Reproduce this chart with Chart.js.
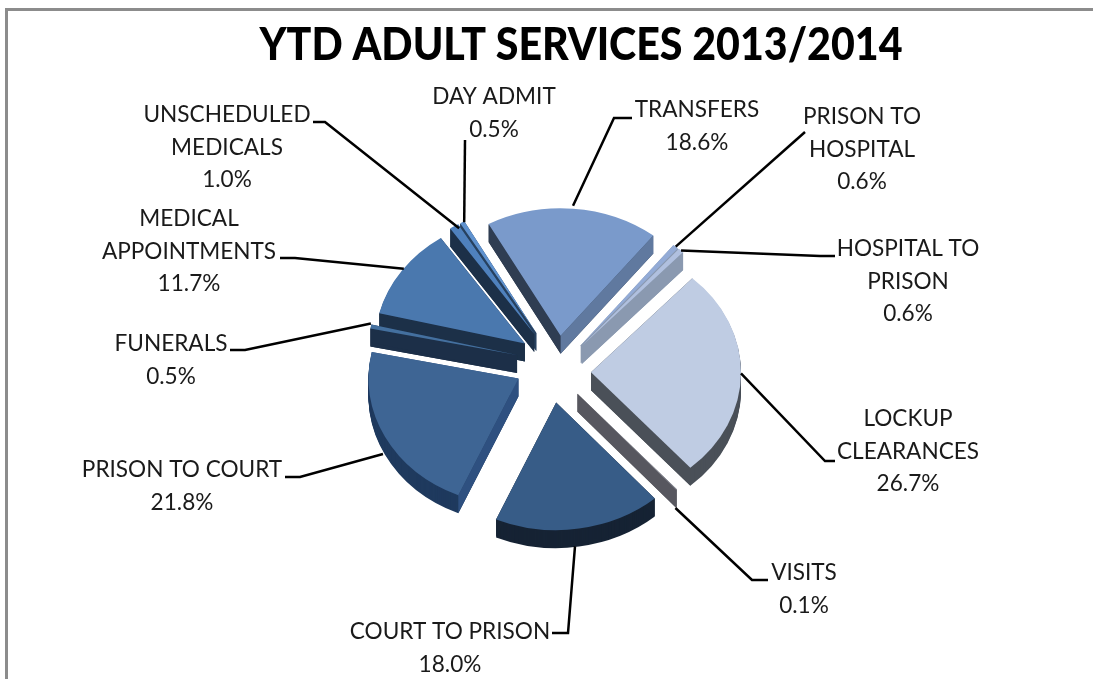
<!DOCTYPE html>
<html>
<head>
<meta charset="utf-8">
<title>YTD Adult Services 2013/2014</title>
<script src="https://cdn.jsdelivr.net/npm/chart.js@4"></script>
<style>
    html, body { margin: 0; padding: 0; background: #fff; overflow: hidden; }
    #frame { position: absolute; left: 5px; top: 8px; right: -5px; bottom: -5px; border: 3px solid #8c8c8c; }
    #rm-pie { position: absolute; left: 0; top: 0; }
</style>
</head>
<body>
<div id="frame"></div>
<canvas id="rm-pie" width="1093" height="679"></canvas>
<script>
const chartTitle = 'YTD ADULT SERVICES 2013/2014';

const categories = [
    'LOCKUP CLEARANCES', 'VISITS', 'COURT TO PRISON', 'PRISON TO COURT', 'FUNERALS',
    'MEDICAL APPOINTMENTS', 'UNSCHEDULED MEDICALS', 'DAY ADMIT', 'TRANSFERS',
    'PRISON TO HOSPITAL', 'HOSPITAL TO PRISON'
];
const values = [26.7, 0.1, 18.0, 21.8, 0.5, 11.7, 1.0, 0.5, 18.6, 0.6, 0.6];

// label wrapping, same order as categories
const labelLines = [
    ['LOCKUP', 'CLEARANCES'], ['VISITS'], ['COURT TO PRISON'], ['PRISON TO COURT'], ['FUNERALS'],
    ['MEDICAL', 'APPOINTMENTS'], ['UNSCHEDULED', 'MEDICALS'], ['DAY ADMIT'], ['TRANSFERS'],
    ['PRISON TO', 'HOSPITAL'], ['HOSPITAL TO', 'PRISON']
];

const topColors = ['#bfcce3', '#8a8c96', '#375c87', '#3e6594', '#44709f', '#4a78ae', '#4f81bd', '#5f92cf', '#7a9acb', '#93abd6', '#b0c0df'];
const wallStart = ['#4a5058', '#57575f', '#162334', '#2e5080', '#1c2f48', '#1c3048', '#1c3048', '#27415f', '#2f3d52', '#8a99b0', '#8a99b0'];
const wallEnd = ['#4a5058', '#57575f', '#162334', '#2e5080', '#1c2f48', '#1c3048', '#1c3048', '#27415f', '#60799f', '#8a99b0', '#8a99b0'];
const wallArc = ['#4a5058', '#57575f', '#162334', '#1f3a5e', '#1c2f48', '#1c3048', '#1c3048', '#27415f', '#2f3d52', '#8a99b0', '#8a99b0'];
const explode = [36, 34, 34, 40, 42, 44, 50, 50, 44, 36, 36];
// extra screen shift per slice, the original has some perspective
const nudge = [[0, 0], [0, 0], [-4, 2], [-1, -9], [3, -9], [6, -7], [6, -2], [6, -2], [2, 1], [3, -3], [3, -3]];

// text centre x, first line centre y, leader line from the label towards the slice, end tweak
const labelSpots = [
    { x: 908, y: 419, leader: [[835, 461], [825, 461]], tip: [0, 0] },
    { x: 804, y: 573, leader: [[768, 580], [752, 580]], tip: [-1, 5] },
    { x: 450, y: 632, leader: [[552, 633], [568, 633]], tip: [-4, 0] },
    { x: 182, y: 470, leader: [[285, 477], [300, 477]], tip: [-2, 9] },
    { x: 171, y: 344, leader: [[230, 350], [245, 350]], tip: [0, -3] },
    { x: 189, y: 219, leader: [[280, 258], [295, 258]], tip: [2, -2] },
    { x: 227, y: 115, leader: [[313, 122], [325, 122]], tip: [5, 2] },
    { x: 494, y: 97, leader: [[465, 140]], tip: [2, 0] },
    { x: 697, y: 110, leader: [[632, 118], [614, 118]], tip: [0, -3] },
    { x: 862, y: 117, leader: [[805, 132]], tip: [0, 0] },
    { x: 908, y: 249, leader: [[835, 256], [820, 256]], tip: [0, 0] }
];

const squash = 0.85;
const depth = 18;
const labelFont = '22.6px Lato, sans-serif';
const lineGap = 32.5;

function midAngle(arc) {
    return (arc.startAngle + arc.endAngle) / 2;
}

function drawArcAs(arc, ctx, color) {
    const keep = arc.options;
    arc.options = { ...keep, backgroundColor: color, borderWidth: 0 };
    arc.draw(ctx);
    arc.options = keep;
}

function wallQuad(ctx, arc, angle, color) {
    const px = arc.x + Math.cos(angle) * arc.outerRadius;
    const py = arc.y + Math.sin(angle) * arc.outerRadius;
    const d = depth / squash;
    ctx.fillStyle = color;
    ctx.beginPath();
    ctx.moveTo(arc.x, arc.y);
    ctx.lineTo(px, py);
    ctx.lineTo(px, py + d);
    ctx.lineTo(arc.x, arc.y + d);
    ctx.closePath();
    ctx.fill();
}

const pie3d = {
    id: 'pie3d',
    beforeDatasetsDraw(chart) {
        const ctx = chart.ctx;
        const arcs = chart.getDatasetMeta(0).data;
        const order = arcs.map((arc, i) => i)
            .sort((a, b) => Math.sin(midAngle(arcs[a])) - Math.sin(midAngle(arcs[b])));

        order.forEach(i => {
            const arc = arcs[i];
            const mid = midAngle(arc);
            ctx.save();
            ctx.translate(nudge[i][0], nudge[i][1]);
            ctx.translate(arc.x, arc.y);
            ctx.scale(1, squash);
            ctx.translate(-arc.x, -arc.y);
            ctx.translate(Math.cos(mid) * explode[i], Math.sin(mid) * explode[i]);

            for (let d = depth; d > 0; d--) {
                ctx.save();
                ctx.translate(0, d / squash);
                drawArcAs(arc, ctx, wallArc[i]);
                ctx.restore();
            }
            wallQuad(ctx, arc, arc.startAngle, wallStart[i]);
            wallQuad(ctx, arc, arc.endAngle, wallEnd[i]);
            drawArcAs(arc, ctx, topColors[i]);
            ctx.restore();
        });
        return false;
    },
    afterDraw(chart) {
        const ctx = chart.ctx;
        const arcs = chart.getDatasetMeta(0).data;

        ctx.save();
        ctx.fillStyle = '#000';
        ctx.textAlign = 'center';
        ctx.textBaseline = 'middle';
        ctx.font = '900 46px Lato, sans-serif';
        ctx.fillText(chartTitle, 581, 45, 643);

        arcs.forEach((arc, i) => {
            const mid = midAngle(arc);
            const r = arc.outerRadius + explode[i];
            // slices facing the viewer get their line on the wall, not the top face
            const drop = Math.sin(mid) > 0.2 ? depth * Math.sin(mid) : 0;
            const spot = labelSpots[i];

            ctx.strokeStyle = '#000';
            ctx.lineWidth = 2.5;
            ctx.beginPath();
            spot.leader.forEach((p, n) => n ? ctx.lineTo(p[0], p[1]) : ctx.moveTo(p[0], p[1]));
            ctx.lineTo(
                arc.x + nudge[i][0] + spot.tip[0] + Math.cos(mid) * r,
                arc.y + nudge[i][1] + spot.tip[1] + Math.sin(mid) * r * squash + drop
            );
            ctx.stroke();

            ctx.fillStyle = '#1a1a1a';
            ctx.font = labelFont;
            const lines = labelLines[i].concat(values[i].toFixed(1) + '%');
            lines.forEach((text, n) => ctx.fillText(text, spot.x, spot.y + n * lineGap));
        });
        ctx.restore();
    }
};

const ctx = document.getElementById('rm-pie');

new Chart(ctx, {
    type: 'pie',
    data: {
        labels: categories,
        datasets: [{
            data: values,
            backgroundColor: topColors,
            borderWidth: 0,
            radius: 150
        }]
    },
    options: {
        responsive: false,
        animation: false,
        rotation: 42.5,
        layout: { padding: { left: 17, right: 0, top: 65, bottom: 0 } },
        plugins: {
            legend: { display: false },
            title: { display: false },
            tooltip: { enabled: false }
        }
    },
    plugins: [pie3d]
});
</script>
</body>
</html>
